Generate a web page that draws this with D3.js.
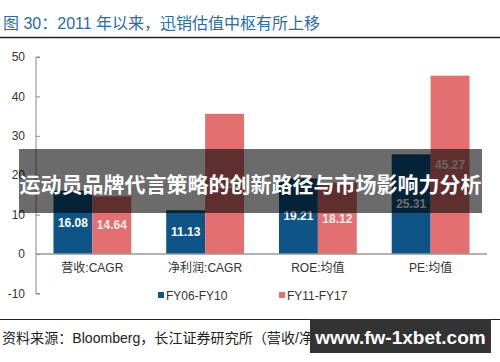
<!DOCTYPE html>
<html><head><meta charset="utf-8">
<script src="https://cdn.jsdelivr.net/npm/d3@7/dist/d3.min.js"></script>
<style>body{margin:0;background:#fff}svg{display:block}</style>
</head><body>
<script>
const categories = ["营收:CAGR", "净利润:CAGR", "ROE:均值", "PE:均值"];
const seriesNames = ["FY06-FY10", "FY11-FY17"];
const fy06_10 = [16.08, 11.13, 19.21, 25.31];
const fy11_17 = [14.64, 35.6, 18.12, 45.27];
const yTicks = [-10, 0, 10, 20, 30, 40, 50];
const colors = ["#0E5487", "#E36F71"];
const titleText = "图 30：2011 年以来，迅销估值中枢有所上移";
const sourceText = "资料来源：Bloomberg，长江证券研究所（营收/净利润CAGR、ROE单位为%）";
const bannerText = "运动员品牌代言策略的创新路径与市场影响力分析";
const watermarkText = "www.fw-1xbet.com";

const W = 500, H = 362;
const svg = d3.select("body").append("svg").attr("width", W).attr("height", H);
const font = "Arial, 'Liberation Sans', 'Noto Sans CJK SC', sans-serif";

// title
svg.append("text").attr("x", 3).attr("y", 29).attr("fill", "#2B6CA3")
  .attr("font-family", font).attr("font-size", 16).text(titleText);
svg.append("line").attr("x1", 0).attr("x2", 500).attr("y1", 37.5).attr("y2", 37.5)
  .attr("stroke", "#222").attr("stroke-width", 1.5);

const x = d3.scaleBand().domain(categories).range([36, 487]).paddingInner(0.31).paddingOuter(0.155);
const y = d3.scaleLinear().domain([-10, 50]).range([293.5, 57]);

// y axis
const axisG = svg.append("g").attr("transform", "translate(36,0)");
axisG.call(d3.axisRight(y).tickValues(yTicks).tickSize(4).tickFormat(""));
axisG.select(".domain").attr("stroke", "#888").attr("d", `M4,${y(50)}H0V${y(-10)}H4`);
axisG.selectAll(".tick line").attr("stroke", "#888");
svg.append("g").selectAll("text").data(yTicks).join("text")
  .attr("x", 25).attr("y", d => y(d)).attr("dy", "0.35em").attr("text-anchor", "end")
  .attr("font-family", font).attr("font-size", 12).attr("fill", "#333").text(d => d);

const bw = x.bandwidth() / 2;
const data = categories.map((c, i) => ({c, vals: [fy06_10[i], fy11_17[i]]}));
const g = svg.append("g");
data.forEach(d => {
  d.vals.forEach((v, j) => {
    const x0 = x(d.c) + j * bw;
    g.append("rect").attr("x", x0).attr("width", bw)
      .attr("y", y(Math.max(0, v))).attr("height", Math.abs(y(v) - y(0)))
      .attr("fill", colors[j]);
    g.append("text").attr("x", x0 + bw / 2).attr("y", (y(v) + y(0)) / 2).attr("dy", "0.35em")
      .attr("text-anchor", "middle").attr("font-family", font).attr("font-size", 12)
      .attr("font-weight", "bold").attr("fill", j === 0 ? "#fff" : "#fbeaea").text(v.toFixed(2));
  });
});

// zero line
svg.append("line").attr("x1", 36).attr("x2", 487).attr("y1", y(0)).attr("y2", y(0))
  .attr("stroke", "#999").attr("stroke-width", 1.5);

// category labels
svg.append("g").selectAll("text").data(categories).join("text")
  .attr("x", d => x(d) + x.bandwidth() / 2).attr("y", 268).attr("dy", "0.35em")
  .attr("text-anchor", "middle").attr("font-family", font).attr("font-size", 12)
  .attr("fill", "#333").text(d => d);

// legend
const legX = [158, 279];
seriesNames.forEach((s, i) => {
  svg.append("rect").attr("x", legX[i]).attr("y", 292).attr("width", 6).attr("height", 6).attr("fill", colors[i]);
  svg.append("text").attr("x", legX[i] + 8).attr("y", 296).attr("dy", "0.35em")
    .attr("font-family", font).attr("font-size", 12).attr("fill", "#333").text(s);
});

// source
svg.append("line").attr("x1", 0).attr("x2", 500).attr("y1", 319.5).attr("y2", 319.5)
  .attr("stroke", "#222").attr("stroke-width", 1.2);
svg.append("text").attr("x", 2).attr("y", 338).attr("dy", "0.35em")
  .attr("font-family", font).attr("font-size", 14).attr("fill", "#222")
  .attr("textLength", 493).attr("lengthAdjust", "spacingAndGlyphs").text(sourceText);

// banner overlay
svg.append("rect").attr("x", 19).attr("y", 149).attr("width", 463).attr("height", 64)
  .attr("fill", "#000").attr("fill-opacity", 0.58);
svg.append("text").attr("x", 250.5).attr("y", 185).attr("dy", "0.35em").attr("text-anchor", "middle")
  .attr("font-family", "'Noto Sans CJK SC', sans-serif").attr("font-weight", "bold")
  .attr("font-size", 21).attr("fill", "#fff").text(bannerText);

// watermark
svg.append("rect").attr("x", 310).attr("y", 319).attr("width", 181).attr("height", 34).attr("fill", "#333");
svg.append("text").attr("x", 400.5).attr("y", 337).attr("dy", "0.35em").attr("text-anchor", "middle")
  .attr("font-family", font).attr("font-weight", "bold").attr("font-size", 19)
  .attr("fill", "#fff").text(watermarkText);
</script>
</body></html>
